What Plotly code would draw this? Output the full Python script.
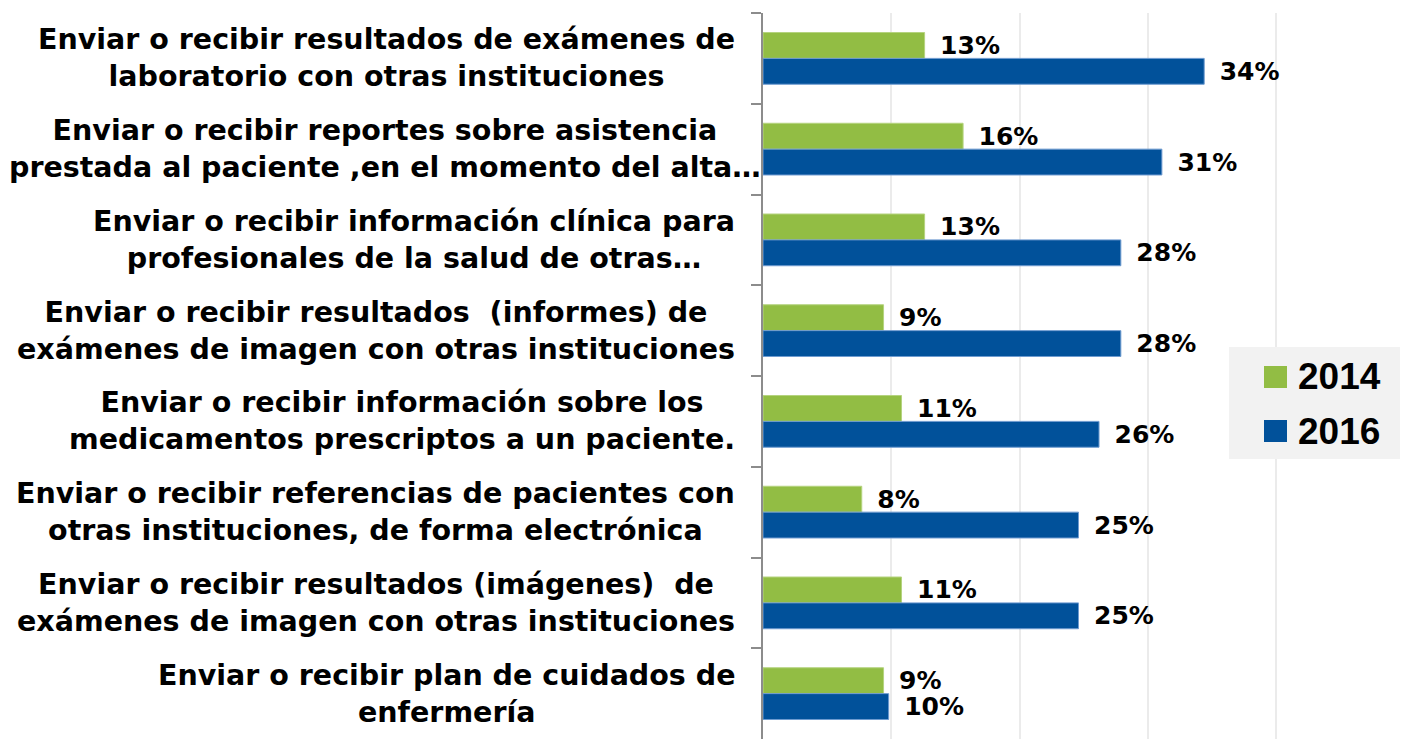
import plotly.graph_objects as go

categories = [
    "Enviar o recibir resultados de exámenes de<br>laboratorio con otras instituciones",
    "Enviar o recibir reportes sobre asistencia<br>prestada al paciente ,en el momento del alta…",
    "Enviar o recibir información clínica para<br>profesionales de la salud de otras…",
    "Enviar o recibir resultados  (informes) de<br>exámenes de imagen con otras instituciones",
    "Enviar o recibir información sobre los<br>medicamentos prescriptos a un paciente.",
    "Enviar o recibir referencias de pacientes con<br>otras instituciones, de forma electrónica",
    "Enviar o recibir resultados (imágenes)  de<br>exámenes de imagen con otras instituciones",
    "Enviar o recibir plan de cuidados de<br>enfermería",
]
series_names = ["2014", "2016"]
values_2014 = [12.6, 15.6, 12.6, 9.4, 10.8, 7.7, 10.8, 9.4]
values_2016 = [34.4, 31.1, 27.9, 27.9, 26.2, 24.6, 24.6, 9.8]
colors = ["#92BD44", "#01519A"]
edge_colors = ["#B5D37F", "#6F9BD0"]

# page body has an 8px margin; figure sized to land on the 1408x739 window
OFF = 8
W, H = 1400, 731
ML, MR, MT, MB = 755, 5, 5, 0
PW, PH = W - ML - MR, H - MT - MB


def px_x(p):
    return (p - OFF - ML) / PW


def px_y(p):
    return 1 - (p - OFF - MT) / PH


fig = go.Figure()
for name, vals, col, ecol in zip(series_names, [values_2014, values_2016], colors, edge_colors):
    fig.add_trace(go.Bar(
        y=categories, x=vals, name=name, orientation="h",
        marker=dict(color=col, line=dict(color=ecol, width=1)),
        texttemplate="\u2002%{x:.0f}%", textposition="outside",
        textfont=dict(family="DejaVu Sans", size=25, color="black", weight="bold"),
        constraintext="none", cliponaxis=False, showlegend=False,
    ))

label_font = dict(family="DejaVu Sans", size=28.5, color="black", weight="bold")
overflow_centered = {1: 385}  # this label overflows its box and stays centred
annotations = []
for i, cat in enumerate(categories):
    if i in overflow_centered:
        annotations.append(dict(
            x=px_x(overflow_centered[i]), xref="paper", y=cat, yref="y",
            xanchor="center", yanchor="middle", align="center",
            showarrow=False, text=cat, font=label_font))
    else:
        annotations.append(dict(
            x=0, xref="paper", y=cat, yref="y", xanchor="right", yanchor="middle",
            xshift=-26, align="center", showarrow=False, text=cat, font=label_font))

shapes = [dict(type="rect", xref="paper", yref="paper",
               x0=px_x(1229), x1=px_x(1408), y0=px_y(459), y1=px_y(347),
               fillcolor="#F2F2F2", line=dict(width=0), layer="above")]
legend_rows = [377, 431]
for name, col, cy in zip(series_names, colors, legend_rows):
    shapes.append(dict(type="rect", xref="paper", yref="paper",
                       x0=px_x(1264), x1=px_x(1287), y0=px_y(cy + 11), y1=px_y(cy - 11),
                       fillcolor=col, line=dict(width=0), layer="above"))
    annotations.append(dict(
        x=px_x(1296), xref="paper", y=px_y(cy), yref="paper", xanchor="left",
        yanchor="middle", showarrow=False, text=name,
        font=dict(family="Liberation Sans", size=37, color="black", weight="bold"),
    ))

fig.update_layout(
    width=W, height=H,
    margin=dict(l=ML, r=MR, t=MT, b=MB),
    paper_bgcolor="white", plot_bgcolor="white",
    barmode="group", bargap=0.43, bargroupgap=0,
    annotations=annotations, shapes=shapes,
    xaxis=dict(range=[0, 49.9], dtick=10, showticklabels=False, showgrid=True,
               gridcolor="#EBEBEB", gridwidth=1.5, zeroline=False, showline=False),
    yaxis=dict(autorange="reversed", showticklabels=False, showgrid=False,
               showline=True, linecolor="#8C8C8C", linewidth=2,
               ticks="outside", tickson="boundaries", ticklen=10,
               tickcolor="#8C8C8C", tickwidth=2),
)

fig.write_html("out.html")
